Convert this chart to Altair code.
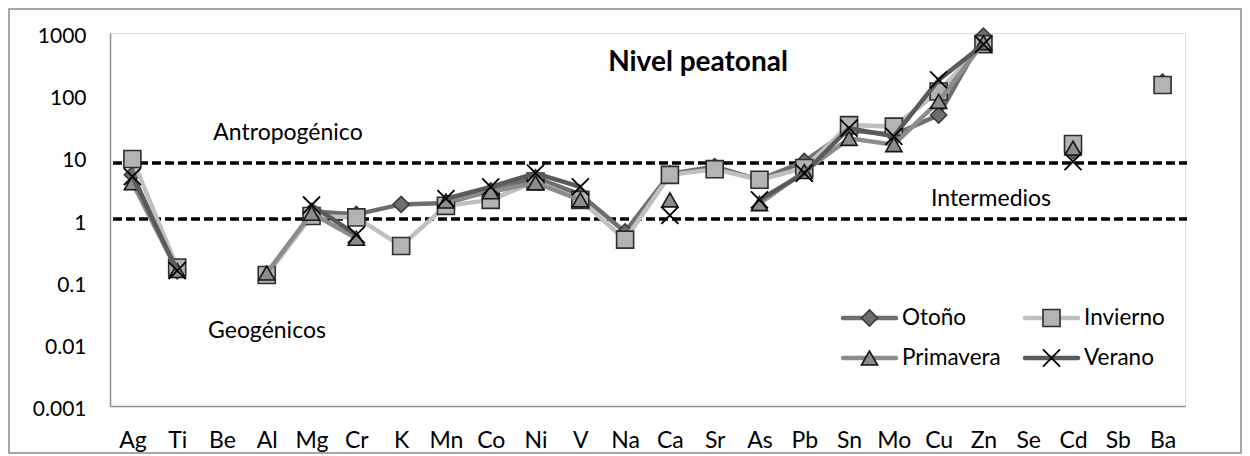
import altair as alt
import pandas as pd

# ---------------- data ----------------
elementos = ["Ag", "Ti", "Be", "Al", "Mg", "Cr", "K", "Mn", "Co", "Ni", "V", "Na",
             "Ca", "Sr", "As", "Pb", "Sn", "Mo", "Cu", "Zn", "Se", "Cd", "Sb", "Ba"]

otono = [5.25, 0.15, None, None, 1.35, 1.21, 1.75, 1.84, 2.88, 4.7, 2.52, 0.63,
         5.45, 7.1, 4.35, 8.55, 27.5, 23, 48, 890, None, 12.7, None, 162]
invierno = [9.4, 0.169, None, 0.128, 1.14, 1.08, 0.375, 1.66, 2.07, 4.08, 2.07, 0.475,
            5.22, 6.45, 4.35, 6.72, 33, 31.2, 114.5, 663, None, 16.4, None, 146]
primavera = [3.9, 0.151, None, 0.138, 1.26, 0.5, None, 1.98, 2.8, 3.9, 2.07, None,
             2.07, None, 1.8, 5.9, 20.2, 16, 79.5, 700, None, 14.1, None, None]
verano = [4.9, 0.151, None, None, 1.71, 0.565, None, 2.16, 3.35, 5.55, 3.35, None,
          1.17, None, 2.07, 5.55, 29.4, 21.7, 176, 655, None, 8.55, None, None]

series = ["Otoño", "Invierno", "Primavera", "Verano"]
valores = [otono, invierno, primavera, verano]

limites = [8.1, 1.02]
y_ticks = [0.001, 0.01, 0.1, 1, 10, 100, 1000]

# ---------------- styles ----------------
FONT = "Lato"
W, H = 1075, 373
PAD = {"left": 102, "top": 25, "right": 57, "bottom": 48}
XSHAPE = "M-1,-1L1,1M-1,1L1,-1"
estilos = {
    "Otoño":     dict(line="#6e6e6e", fill="#6e6e6e", stroke="#3a3a3a", shape="diamond", size=260, filled=True),
    "Invierno":  dict(line="#c0c0c0", fill="#b3b3b3", stroke="#2e2e2e", shape="square", size=290, filled=True),
    "Primavera": dict(line="#8c8c8c", fill="#8c8c8c", stroke="#151515", shape="triangle-up", size=260, filled=True),
    "Verano":    dict(line="#5a5a5a", fill="none", stroke="#000000", shape=XSHAPE, size=290, filled=False),
}

rows = []
for s, vals in zip(series, valores):
    for e, v in zip(elementos, vals):
        rows.append({"serie": s, "elemento": e, "valor": v})
df = pd.DataFrame(rows)

yscale = alt.Scale(type="log", domain=[0.001, 1000], nice=False)
x_enc = alt.X("elemento:O", sort=elementos,
              scale=alt.Scale(domain=elementos, padding=0.5),
              axis=alt.Axis(title=None, labelAngle=0, ticks=False, domainColor="#8f8f8f",
                            domainWidth=1.5, labelFontSize=23, labelFont=FONT,
                            labelColor="#000000", labelPadding=23, grid=False))
y_enc = alt.Y("valor:Q", scale=yscale,
              axis=alt.Axis(title=None, values=y_ticks, format="~g", ticks=False,
                            domainColor="#8f8f8f", domainWidth=1.5, labelFontSize=21,
                            labelFont=FONT, labelColor="#000000", labelPadding=24,
                            labelOffset=3.5, grid=False))

layers = []

# dashed threshold lines
lim_df = pd.DataFrame({"lim": limites})
layers.append(
    alt.Chart(lim_df).mark_rule(color="#000000", strokeWidth=3.5, strokeDash=[9, 4]).encode(
        y=alt.Y("lim:Q", scale=yscale),
        x=alt.value(3), x2=alt.value(W + 2)
    )
)

for s in series:
    st = estilos[s]
    base = alt.Chart(df).transform_filter(alt.datum.serie == s)
    layers.append(
        base.mark_line(color=st["line"], strokeWidth=4.5, invalid="break-paths-filter-domains")
        .encode(x=x_enc, y=y_enc)
    )
    pt = dict(shape=st["shape"], size=st["size"], filled=st["filled"], opacity=1,
              stroke=st["stroke"], strokeWidth=1.6 if st["filled"] else 1.8)
    if st["filled"]:
        pt["fill"] = st["fill"]
    layers.append(
        base.transform_filter("isValid(datum.valor)")
        .mark_point(**pt)
        .encode(x=x_enc, y=y_enc)
    )

# annotations
anot = [
    ("Antropogénico", 178, 100, "normal", 23),
    ("Geogénicos", 157, 298, "normal", 23),
    ("Intermedios", 881, 166, "normal", 23),
    ("Nivel peatonal", 588, 30, "bold", 28),
]
one = pd.DataFrame({"k": [0]})
for txt, ax, ay, fw, fs in anot:
    layers.append(
        alt.Chart(one).mark_text(text=txt, font=FONT, fontSize=fs, fontWeight=fw,
                                 color="#000000", align="center", baseline="middle")
        .encode(x=alt.value(ax), y=alt.value(ay))
    )

# manual legend
leg = pd.DataFrame({"serie": series})
leg["i"] = range(len(series))
leg["col"] = leg["i"] % 2
leg["row"] = leg["i"] // 2
leg["x0"] = 733 + leg["col"] * 182
leg["x1"] = leg["x0"] + 53
leg["xm"] = leg["x0"] + 26.5
leg["xt"] = leg["x1"] + 6
leg["yy"] = 285 + leg["row"] * 40
leg["lc"] = [estilos[s]["line"] for s in series]

layers.append(
    alt.Chart(leg).mark_rule(strokeWidth=4.5, strokeCap="round").encode(
        x=alt.X("x0:Q", scale=None), x2="x1:Q", y=alt.Y("yy:Q", scale=None),
        color=alt.Color("lc:N", scale=None)
    )
)
for s in series:
    st = estilos[s]
    pt = dict(shape=st["shape"], size=st["size"], filled=st["filled"], opacity=1,
              stroke=st["stroke"], strokeWidth=1.6 if st["filled"] else 1.8)
    if st["filled"]:
        pt["fill"] = st["fill"]
    layers.append(
        alt.Chart(leg).transform_filter(alt.datum.serie == s).mark_point(**pt).encode(
            x=alt.X("xm:Q", scale=None), y=alt.Y("yy:Q", scale=None)
        )
    )
layers.append(
    alt.Chart(leg).mark_text(font=FONT, fontSize=22.5, color="#000000", align="left",
                             baseline="middle").encode(
        x=alt.X("xt:Q", scale=None), y=alt.Y("yy:Q", scale=None), text="serie:N"
    )
)

# outer chart border
layers.append(
    alt.Chart(one).mark_rect(fill="transparent", stroke="#8a8a8a", strokeWidth=1.5).encode(
        x=alt.value(-PAD["left"] + 1), x2=alt.value(W + PAD["right"] - 1),
        y=alt.value(-PAD["top"] + 1), y2=alt.value(H + PAD["bottom"] - 1)
    )
)

chart = alt.layer(*layers).resolve_scale(y="shared").properties(
    width=W, height=H,
    autosize=alt.AutoSizeParams(type="none"),
    padding=PAD,
).configure_view(stroke=None).configure(background="white")

chart.save("out.html", embed_options={"renderer": "svg", "actions": False})
